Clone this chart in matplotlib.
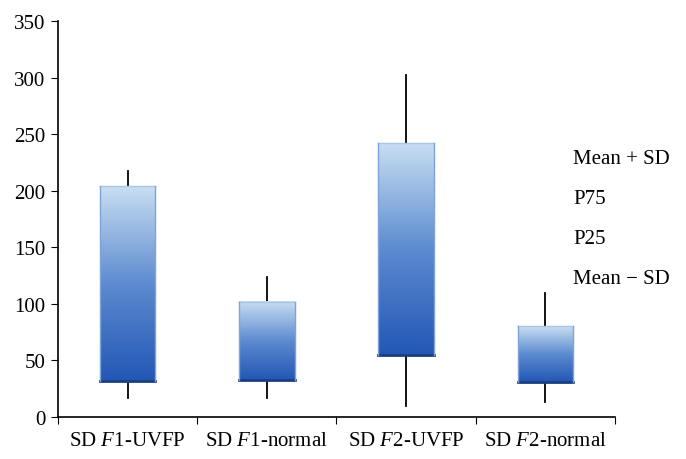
import numpy as np
import matplotlib
matplotlib.use("Agg")
import matplotlib.pyplot as plt
from matplotlib.colors import LinearSegmentedColormap

plt.rcParams['font.family'] = ['Liberation Serif', 'DejaVu Serif']
plt.rcParams['mathtext.fontset'] = 'custom'
plt.rcParams['mathtext.it'] = 'Liberation Serif:italic'
plt.rcParams['mathtext.rm'] = 'Liberation Serif'

categories = ["SD $\\it{F}$1-UVFP", "SD $\\it{F}$1-normal", "SD $\\it{F}$2-UVFP", "SD $\\it{F}$2-normal"]
mean_plus_sd = [217, 124, 302, 110]
p75 = [204, 102, 242, 80]
p25 = [32, 33, 55, 31]
mean_minus_sd = [17, 17, 10, 13]
legend_labels = ["Mean + SD", "P75", "P25", "Mean \u2212 SD"]

fig = plt.figure(figsize=(6.86, 4.6), dpi=100)
ax = fig.add_axes([0.0845, 0.0913, 0.812, 0.861])

cmap = LinearSegmentedColormap.from_list("bluegrad", ["#2257b5", "#5d8bd0", "#c8def2"])
grad = np.linspace(0, 1, 256).reshape(-1, 1)
width = 0.4

for i in range(len(categories)):
    c = i + 0.5
    # whiskers
    ax.plot([c, c], [p75[i], mean_plus_sd[i]], color="black", lw=1.3, zorder=1)
    ax.plot([c, c], [mean_minus_sd[i], p25[i]], color="black", lw=1.3, zorder=1)
    # gradient box
    ax.imshow(grad, cmap=cmap, aspect="auto", origin="lower",
              extent=[c - width / 2, c + width / 2, p25[i], p75[i]], zorder=2)
    ax.plot([c - width / 2, c + width / 2], [p25[i], p25[i]], color="#1a3f80", lw=2, zorder=3)
    ax.plot([c - width / 2, c + width / 2], [p75[i], p75[i]], color="#a9c6e8", lw=1, zorder=3)
    ax.plot([c - width / 2, c - width / 2], [p25[i], p75[i]], color="#7fa3d8", lw=1, zorder=3)
    ax.plot([c + width / 2, c + width / 2], [p25[i], p75[i]], color="#7fa3d8", lw=1, zorder=3)

ax.set_xlim(0, 4)
ax.set_ylim(0, 350)
ax.set_yticks(range(0, 351, 50))
ax.set_xticks(range(0, 5))
ax.set_xticklabels([])
ax.set_xticks([i + 0.5 for i in range(4)], minor=True)
ax.set_xticklabels(categories, minor=True, fontsize=15)
ax.tick_params(axis="x", which="minor", length=0, pad=10)
ax.tick_params(axis="x", which="major", length=5, direction="out")
ax.tick_params(axis="y", length=5, direction="out", labelsize=15, pad=4)
for s in ["top", "right"]:
    ax.spines[s].set_visible(False)
ax.spines["left"].set_linewidth(1.2)
ax.spines["bottom"].set_linewidth(1.2)

for k, lab in enumerate(legend_labels):
    fig.text(573 / 686, 1 - (160 + 40 * k) / 460, lab, fontsize=15, va="center", ha="left")

fig.savefig("out.png", dpi=100)
